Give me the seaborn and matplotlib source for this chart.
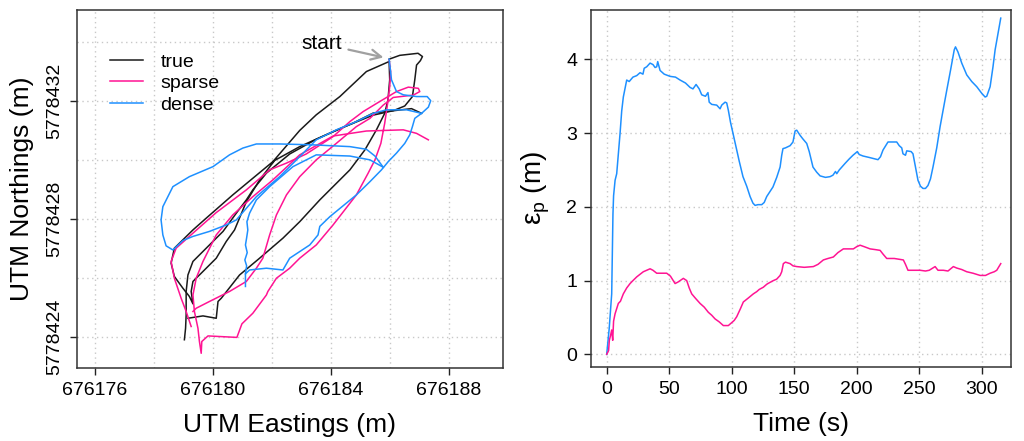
import numpy as np
import pandas as pd
import matplotlib
matplotlib.use('Agg')
import matplotlib.pyplot as plt
from matplotlib.lines import Line2D
from matplotlib.ticker import MultipleLocator, FormatStrFormatter
import seaborn as sns

# local origin of the trajectories (UTM, m); traced paths are offsets from it
E0 = 676176
N0 = 5778424

# true path, two drawn pieces
true_east = [
    [9.97, 10.33, 10.95, 11.10, 11.03, 10.90, 10.84, 10.76, 10.50, 10.11, 9.43, 8.52, 7.50,
     6.60, 5.81, 5.35, 5.13, 4.79, 4.34, 3.77, 3.32, 3.15, 3.09, 3.09, 3.07, 3.03],
    [3.15, 3.66, 4.11, 4.17, 4.28, 4.90, 5.58, 6.37, 6.94, 7.62, 8.30, 8.64, 9.15, 9.54,
     9.82, 9.93, 9.99, 9.97, 9.20, 8.30, 7.50, 6.94, 6.03, 4.67, 3.77, 3.32, 2.69, 2.58,
     2.69, 2.98, 3.20, 3.32, 3.26, 3.32, 3.66, 4.11, 4.45, 4.73, 5.13, 5.58, 6.09, 6.94,
     8.07, 8.75, 9.43, 10.73, 11.07],
]
true_north = [
    [9.42, 9.55, 9.62, 9.51, 9.37, 9.22, 8.72, 8.15, 7.83, 7.67, 7.52, 7.15, 6.70,
     6.20, 5.55, 4.98, 4.64, 4.19, 3.57, 3.00, 2.55, 2.09, 1.53, 0.74, 0.28, -0.11],
    [0.62, 0.70, 0.62, 1.19, 1.30, 2.09, 2.66, 3.34, 3.90, 4.64, 5.32, 5.66, 6.34, 7.02,
     7.58, 8.03, 8.72, 9.34, 9.00, 8.15, 7.53, 7.00, 5.94, 4.81, 4.02, 3.62, 3.00, 2.49,
     2.04, 1.64, 1.36, 1.11, 1.53, 1.87, 2.21, 2.66, 3.23, 3.62, 4.58, 5.32, 5.98, 6.45,
     6.96, 7.25, 7.59, 7.74, 7.58],
]

# sparse estimate
sparse_east = [
    [9.97, 10.02, 9.99, 9.92, 9.82, 9.69, 9.49, 9.26, 8.86, 8.07, 7.50, 6.94, 6.60, 6.15,
     5.86, 5.81, 5.35, 4.98, 4.81, 4.22, 3.83, 3.62, 3.60, 3.54, 3.49, 3.37, 3.32, 3.43,
     3.66, 4.11, 4.67, 5.35, 6.03, 6.94, 8.07, 9.20, 10.45, 10.90, 11.30],
    [3.26, 3.09, 2.92, 2.69, 2.58, 2.75, 3.32, 4.11, 5.13, 5.92, 6.49, 7.16, 8.07, 8.64,
     9.09, 9.65, 10.22, 10.62, 10.96, 11.01, 10.79, 10.11, 9.77, 9.32, 8.86, 8.18, 7.50,
     6.94, 6.49, 6.15, 5.92, 5.69, 5.47, 5.13, 4.56, 3.88, 3.43, 3.32],
]
sparse_north = [
    [9.40, 9.00, 8.49, 7.92, 7.24, 6.56, 6.00, 5.55, 4.81, 3.79, 3.11, 2.66, 2.32, 1.98,
     1.53, 1.41, 0.79, 0.43, -0.03, 0.00, 0.02, -0.17, -0.57, -0.17, 0.28, 0.85, 1.41, 1.98,
     2.55, 3.45, 4.13, 4.75, 5.32, 6.17, 6.81, 6.98, 7.02, 6.90, 6.68],
    [0.34, 0.85, 1.30, 1.98, 2.55, 3.00, 3.51, 4.21, 4.98, 5.66, 5.89, 6.20, 6.79, 7.30,
     7.64, 7.98, 8.32, 8.47, 8.43, 8.32, 8.20, 8.12, 7.86, 7.41, 7.13, 6.56, 6.00,
     5.43, 4.81, 4.13, 3.45, 2.66, 2.32, 1.87, 1.53, 1.19, 0.96, 0.85],
]

# dense estimate
dense_east = [
    [9.97, 10.02, 10.05, 10.22, 10.45, 10.90, 11.26, 11.38, 11.30, 11.07, 10.84, 10.76,
     10.67, 10.50, 10.22, 9.94, 9.71, 9.32, 8.86, 7.96, 7.62, 7.56, 7.28, 6.60, 6.37, 5.81,
     5.24, 5.10, 5.10],
    [11.07, 10.56, 9.88, 9.43, 8.86, 8.18, 7.50, 6.83, 6.26, 5.47, 4.79, 4.45, 3.88, 3.32,
     2.98, 2.64, 2.41, 2.30, 2.24, 2.30, 2.64, 3.20, 4.00, 4.56, 5.01, 5.47, 6.26, 7.39,
     8.64, 9.20, 9.49, 9.77],
    [5.10, 5.14, 5.08, 5.16, 5.10, 5.14, 5.18, 5.15, 5.24, 5.47, 5.92, 6.71, 7.50, 8.64,
     9.32, 9.77],
]
dense_north = [
    [9.42, 9.00, 8.72, 8.32, 8.21, 8.15, 8.15, 8.01, 7.79, 7.58, 7.41, 7.13, 6.85, 6.56,
     6.23, 5.94, 5.66, 5.26, 4.81, 4.07, 3.74, 3.45, 3.11, 2.66, 2.26, 2.32, 2.26, 2.13,
     1.70],
    [7.58, 7.70, 7.70, 7.58, 7.30, 7.02, 6.68, 6.00, 5.43, 4.75, 3.96, 3.79, 3.57, 3.40,
     3.26, 2.94, 3.08, 3.45, 3.96, 4.41, 5.09, 5.43, 5.77, 6.17, 6.40, 6.54, 6.54, 6.51,
     6.45, 6.36, 6.13, 5.75],
    [2.13, 2.40, 2.60, 2.85, 3.11, 3.35, 3.62, 3.90, 4.19, 4.64, 5.09, 5.77, 6.17, 6.13,
     6.00, 5.75],
]

# position error over time
dense_t = [0, 2, 4, 5, 5.5, 6.7, 8, 9, 10.7, 12, 13.3, 16, 18, 21, 24, 26.7, 29, 30, 32,
           34.7, 37, 38.7, 40, 40.8, 42.7, 46, 50.7, 55, 58.7, 63, 66.7, 69, 71.5, 74, 76,
           79, 81, 82, 84, 88, 90.7, 92, 94.7, 96, 97.3, 99, 101, 104, 106, 109, 112,
           114.7, 117, 118.7, 121, 124, 126, 128, 133, 136, 138.7, 140, 141, 143, 146.7,
           149, 150.7, 152, 154.7, 157, 160, 162, 165, 168, 170.7, 175, 178.7, 181, 183,
           184, 186, 190.7, 194, 197, 200.5, 202, 205, 210, 217, 219, 221, 225, 228, 232,
           234, 236, 237, 239, 240, 243.5, 245, 246, 247.5, 249, 251, 253, 255, 257, 259,
           261, 264, 266.7, 270, 272, 275, 278, 279, 281, 284, 288, 292, 296, 300, 302.7,
           304, 306.7, 309, 310.7, 313, 315.2]
dense_err = [0.00, 0.35, 0.82, 1.90, 2.15, 2.36, 2.45, 2.65, 3.00, 3.30, 3.49, 3.72, 3.70,
             3.76, 3.78, 3.82, 3.80, 3.88, 3.90, 3.95, 3.93, 3.89, 3.90, 3.97, 3.85, 3.80,
             3.77, 3.76, 3.72, 3.68, 3.62, 3.60, 3.66, 3.60, 3.52, 3.50, 3.55, 3.42, 3.39,
             3.38, 3.33, 3.38, 3.42, 3.41, 3.31, 3.15, 3.00, 2.77, 2.62, 2.41, 2.28, 2.14,
             2.05, 2.02, 2.03, 2.03, 2.06, 2.14, 2.27, 2.40, 2.54, 2.70, 2.79, 2.80, 2.83,
             2.88, 3.03, 3.04, 2.97, 2.92, 2.86, 2.75, 2.54, 2.47, 2.42, 2.40, 2.41, 2.43,
             2.48, 2.45, 2.50, 2.59, 2.65, 2.70, 2.75, 2.71, 2.69, 2.67, 2.64, 2.68, 2.77,
             2.88, 2.88, 2.88, 2.83, 2.80, 2.72, 2.70, 2.76, 2.75, 2.72, 2.63, 2.50, 2.36,
             2.28, 2.25, 2.25, 2.29, 2.38, 2.54, 2.80, 3.09, 3.40, 3.58, 3.85, 4.13, 4.17,
             4.10, 3.95, 3.79, 3.70, 3.63, 3.54, 3.49, 3.50, 3.63, 3.90, 4.13, 4.35, 4.56]

sparse_t = [0, 1.5, 2.1, 3, 4, 4.8, 5.5, 6.7, 8, 9.3, 11, 13.3, 16, 18.7, 21, 24, 27, 29.3,
            32, 34.7, 37, 40, 44, 48, 51, 54.7, 57, 61.3, 64, 66, 68, 71, 74.7, 78, 81.3,
            84, 86.7, 90, 93.3, 97.3, 100, 102, 104, 107, 109.3, 113, 117.3, 120, 122,
            125.3, 128, 130, 133.3, 136, 138.7, 140, 141.3, 143, 146.7, 149, 152, 158,
            165.3, 169, 173.3, 177, 181.3, 185, 189.3, 193, 197.3, 200, 202.7, 206, 210.7,
            215, 218.7, 221, 224, 230, 237.3, 239, 241, 245, 250.7, 255, 258, 262.7, 265,
            269.3, 273, 277.3, 280, 284, 288, 293, 298.7, 303, 306.7, 310, 312, 315.2]
sparse_err = [0.00, 0.05, 0.19, 0.25, 0.33, 0.19, 0.45, 0.55, 0.62, 0.69, 0.72, 0.82, 0.90,
              0.96, 1.00, 1.05, 1.09, 1.12, 1.14, 1.16, 1.14, 1.10, 1.10, 1.10, 1.06, 0.96,
              0.98, 1.03, 1.00, 0.90, 0.82, 0.76, 0.69, 0.64, 0.57, 0.53, 0.48, 0.44, 0.39,
              0.39, 0.43, 0.46, 0.51, 0.62, 0.71, 0.76, 0.82, 0.85, 0.88, 0.91, 0.95, 0.97,
              1.00, 1.02, 1.07, 1.12, 1.23, 1.25, 1.23, 1.20, 1.19, 1.18, 1.19, 1.22, 1.28,
              1.30, 1.32, 1.38, 1.43, 1.43, 1.43, 1.46, 1.48, 1.46, 1.43, 1.42, 1.41, 1.36,
              1.30, 1.30, 1.28, 1.22, 1.14, 1.14, 1.14, 1.13, 1.14, 1.19, 1.14, 1.14, 1.13,
              1.19, 1.17, 1.15, 1.12, 1.10, 1.07, 1.07, 1.10, 1.12, 1.14, 1.23]

col_true = '#1a1a1a'
col_sparse = '#FF1493'
col_dense = '#1E90FF'
grid_col = '#c8c8c8'


def path_frame(east_parts, north_parts):
    frames = []
    for k, (e, n) in enumerate(zip(east_parts, north_parts)):
        frames.append(pd.DataFrame({'east': E0 + np.array(e), 'north': N0 + np.array(n), 'seg': k}))
    return pd.concat(frames, ignore_index=True)


plt.rcParams['font.family'] = ['Liberation Sans', 'DejaVu Sans']
plt.rcParams['mathtext.fontset'] = 'custom'
plt.rcParams['mathtext.rm'] = 'Liberation Sans'

fig = plt.figure(figsize=(10.24, 4.41), dpi=100)
ax1 = fig.add_axes([0.0752, 0.1655, 0.416, 0.8118])
ax2 = fig.add_axes([0.5771, 0.1678, 0.4102, 0.8095])

# ---------------- left: trajectories ----------------
for east, north, col in [(true_east, true_north, col_true),
                         (sparse_east, sparse_north, col_sparse),
                         (dense_east, dense_north, col_dense)]:
    df = path_frame(east, north)
    sns.lineplot(data=df, x='east', y='north', units='seg', estimator=None, sort=False,
                 color=col, lw=1.1, ax=ax1, zorder=3)

ax1.set_xlim(676175.39, 676189.83)
ax1.set_ylim(5778422.93, 5778435.09)
ax1.xaxis.set_major_locator(MultipleLocator(4))
ax1.yaxis.set_major_locator(MultipleLocator(4))
ax1.xaxis.set_minor_locator(MultipleLocator(2))
ax1.yaxis.set_minor_locator(MultipleLocator(2))
ax1.xaxis.set_major_formatter(FormatStrFormatter('%d'))
ax1.yaxis.set_major_formatter(FormatStrFormatter('%d'))
ax1.grid(True, which='both', color=grid_col, linestyle=(0, (1, 2.5)), lw=1.0, zorder=0)
ax1.tick_params(which='minor', length=0)
for lbl in ax1.get_yticklabels():
    lbl.set_rotation(90)
    lbl.set_va('center')
ax1.set_xlabel('UTM Eastings (m)', fontsize=19, labelpad=10)
ax1.set_ylabel('UTM Northings (m)', fontsize=19, labelpad=9)

ax1.annotate('start', xy=(E0 + 9.78, N0 + 9.48), xytext=(E0 + 7.67, N0 + 9.95),
             fontsize=15, ha='center', va='center',
             arrowprops=dict(arrowstyle='->', color='#a0a0a0', lw=1.6,
                             shrinkA=3, shrinkB=0, mutation_scale=18))

handles = [Line2D([], [], color=col_true, lw=1.1),
           Line2D([], [], color=col_sparse, lw=1.1),
           Line2D([], [], color=col_dense, lw=1.1)]
ax1.legend(handles, ['true', 'sparse', 'dense'], loc='upper left',
           bbox_to_anchor=(0.077, 0.88), frameon=False, fontsize=14,
           handlelength=1.7, handletextpad=0.9, labelspacing=0.2, borderpad=0,
           borderaxespad=0)

# ---------------- right: position error ----------------
sns.lineplot(x=dense_t, y=dense_err, color=col_dense, lw=1.1, ax=ax2, zorder=3)
sns.lineplot(x=sparse_t, y=sparse_err, color=col_sparse, lw=1.1, ax=ax2, zorder=3)
ax2.set_xlim(-12.6, 323.4)
ax2.set_ylim(-0.172, 4.67)
ax2.set_xticks(np.arange(0, 301, 50))
ax2.set_yticks(np.arange(0, 5, 1))
ax2.grid(True, color=grid_col, linestyle=(0, (1, 2.5)), lw=1.0, zorder=0)
ax2.set_xlabel('Time (s)', fontsize=19, labelpad=10)
ax2.set_ylabel('ε$_{\\mathregular{p}}$ (m)', fontsize=20, labelpad=10)

for ax in (ax1, ax2):
    ax.set_axisbelow(True)
    ax.tick_params(which='major', direction='out', length=5, width=1, labelsize=14,
                   pad=5, colors='#222222', labelcolor='black')
    for sp in ax.spines.values():
        sp.set_color('#333333')
        sp.set_linewidth(1.1)

fig.savefig('out.png', dpi=100)
